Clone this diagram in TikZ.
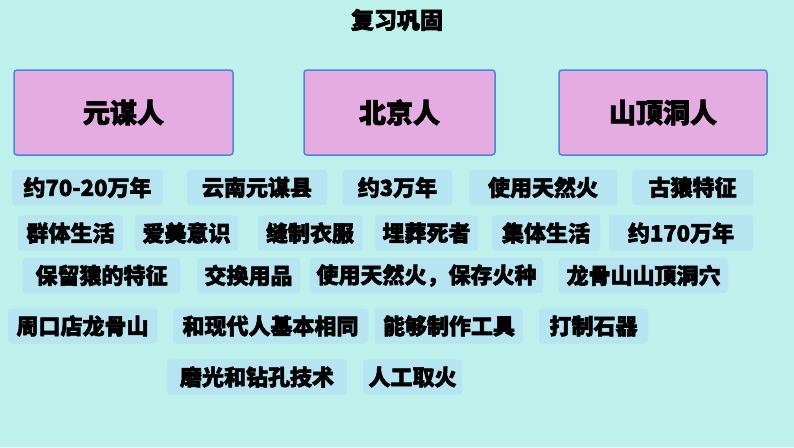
\documentclass[tikz,border=0pt]{standalone}
\usepackage{fontspec}
\newfontfamily\cjk{Noto Sans CJK SC}[FakeBold=2.5]
\usepackage{tikz}
\usetikzlibrary{positioning}
\definecolor{bgaqua}{RGB}{190,241,236}
\definecolor{tagblue}{RGB}{182,228,240}
\definecolor{boxpink}{RGB}{228,172,224}
\definecolor{boxedge}{RGB}{74,134,220}

\begin{document}
\begin{tikzpicture}[
  x=1pt,y=-1pt,
  title/.style={font=\cjk\bfseries\fontsize{23}{25}\selectfont},
  bigbox/.style={draw=boxedge,line width=1.5pt,fill=boxpink,rounded corners=3pt,
                 minimum height=85pt,inner sep=0pt,
                 font=\cjk\bfseries\fontsize{27}{29}\selectfont},
  tag/.style={fill=tagblue,rounded corners=3pt,minimum height=35pt,inner sep=0pt,
              font=\cjk\bfseries\fontsize{22}{24}\selectfont}
]
\useasboundingbox (0,0) rectangle (794,447);
\fill[bgaqua] (0,0) rectangle (794,447);

% title
\node[title] (head) at (397,20) {复习巩固};

% the three kinds of early humans
\node[bigbox,minimum width=219pt] (yuanmou) at (123.5,112.5) {元谋人};
\node[bigbox,minimum width=191pt] (beijing) at (399.5,112.5) {北京人};
\node[bigbox,minimum width=208pt] (shanding) at (663,112.5) {山顶洞人};

% row 1
\node[tag,minimum width=151pt] (r1a) at (87.5,187.5) {约70-20万年};
\node[tag,minimum width=140pt] (r1b) at (257,187.5) {云南元谋县};
\node[tag,minimum width=109pt] (r1c) at (397.5,187.5) {约3万年};
\node[tag,minimum width=148pt] (r1d) at (543,187.5) {使用天然火};
\node[tag,minimum width=121pt] (r1e) at (692.5,187.5) {古猿特征};

% row 2
\node[tag,minimum width=105pt] (r2a) at (70.5,233) {群体生活};
\node[tag,minimum width=103pt] (r2b) at (186.5,233) {爱美意识};
\node[tag,minimum width=104pt] (r2c) at (310,233) {缝制衣服};
\node[tag,minimum width=103pt] (r2d) at (426.5,233) {埋葬死者};
\node[tag,minimum width=108pt] (r2e) at (546,233) {集体生活};
\node[tag,minimum width=144pt] (r2f) at (681,233) {约170万年};

% row 3
\node[tag,minimum width=157pt] (r3a) at (101.5,275.5) {保留猿的特征};
\node[tag,minimum width=103pt] (r3b) at (248.5,275.5) {交换用品};
\node[tag,minimum width=233pt] (r3c) at (426.5,275.5) {使用天然火，保存火种};
\node[tag,minimum width=169pt] (r3d) at (643.5,275.5) {龙骨山山顶洞穴};

% row 4
\node[tag,minimum width=149pt] (r4a) at (82.5,326) {周口店龙骨山};
\node[tag,minimum width=195pt] (r4b) at (270.5,326) {和现代人基本相同};
\node[tag,minimum width=148pt] (r4c) at (449,326) {能够制作工具};
\node[tag,minimum width=109pt] (r4d) at (593.5,326) {打制石器};

% row 5
\node[tag,minimum width=180pt] (r5a) at (257,377) {磨光和钻孔技术};
\node[tag,minimum width=99pt] (r5b) at (412.5,377) {人工取火};
\end{tikzpicture}
\end{document}
